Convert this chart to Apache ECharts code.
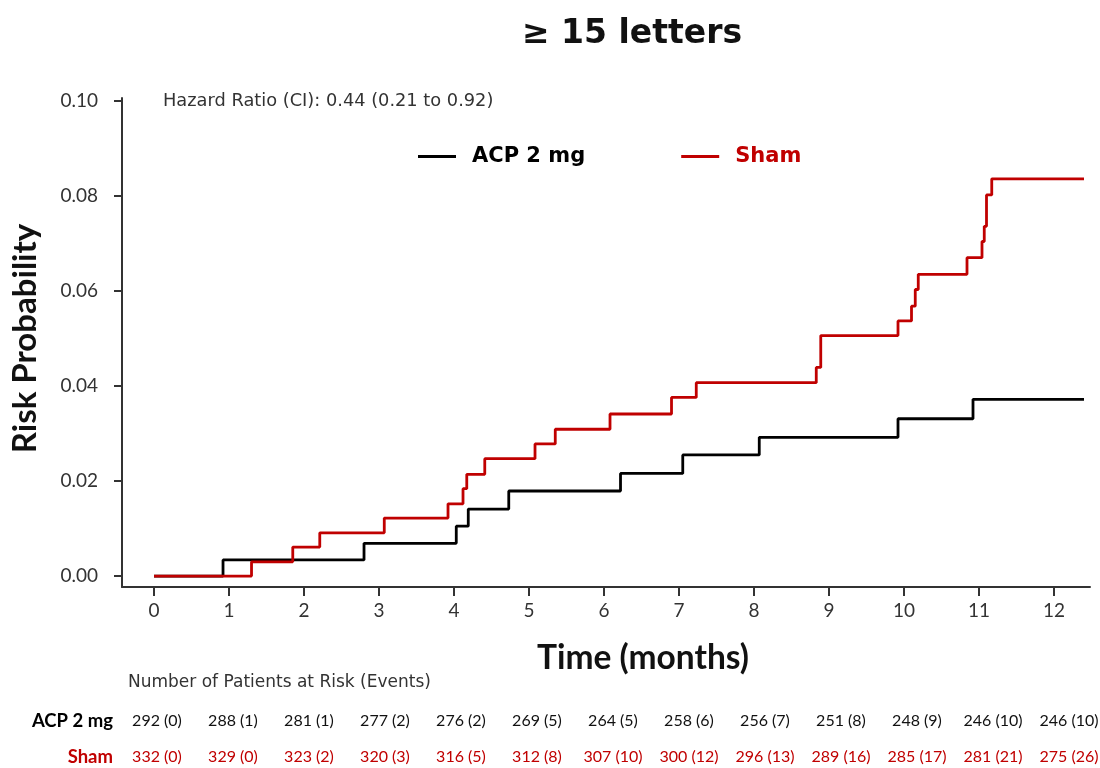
<!DOCTYPE html>
<html>
<head>
<meta charset="utf-8">
<script src="https://cdn.jsdelivr.net/npm/echarts@6/dist/echarts.min.js"></script>
<style>html,body{margin:0;padding:0;background:#fff}#chart{width:1100px;height:768px}</style>
</head>
<body>
<div id="chart"></div>
<script>
// ---- data ----
const acpTimes = [0, 0.92, 2.80, 4.03, 4.19, 4.73, 6.22, 7.05, 8.07, 9.92, 10.92, 12.40];
const acpRisk  = [0, 0.0034, 0.0069, 0.0105, 0.0141, 0.0179, 0.0216, 0.0255, 0.0292, 0.0331, 0.0372, 0.0372];
const shamTimes = [0, 1.30, 1.85, 2.21, 3.07, 3.92, 4.12, 4.17, 4.41, 5.08, 5.35, 6.08, 6.90, 7.23, 8.83, 8.89, 9.92, 10.10, 10.15, 10.19, 10.84, 11.04, 11.07, 11.10, 11.17, 12.40];
const shamRisk  = [0, 0.0030, 0.0061, 0.0091, 0.0122, 0.0152, 0.0184, 0.0214, 0.0247, 0.0278, 0.0309, 0.0341, 0.0376, 0.0407, 0.0439, 0.0506, 0.0537, 0.0568, 0.0603, 0.0635, 0.0670, 0.0704, 0.0736, 0.0802, 0.0836, 0.0836];
const xTicks = [0,1,2,3,4,5,6,7,8,9,10,11,12];
const yTicks = [0, 0.02, 0.04, 0.06, 0.08, 0.10];
const acpAtRisk = ['292 (0)','288 (1)','281 (1)','277 (2)','276 (2)','269 (5)','264 (5)','258 (6)','256 (7)','251 (8)','248 (9)','246 (10)','246 (10)'];
const shamAtRisk = ['332 (0)','329 (0)','323 (2)','320 (3)','316 (5)','312 (8)','307 (10)','300 (12)','296 (13)','289 (16)','285 (17)','281 (21)','275 (26)'];
const seriesNames = ['ACP 2 mg', 'Sham'];
const colors = ['#000000', '#C00000'];

const FONT = 'Lato';
const WIDE = '"DejaVu Sans"';
const chart = echarts.init(document.getElementById('chart'), null, {renderer: 'canvas'});

const tableGraphics = [];
tableGraphics.push({type:'text', x:128, y:683, style:{text:'Number of Patients at Risk (Events)', font:'17px ' + WIDE, fill:'#333', textVerticalAlign:'middle'}});
tableGraphics.push({type:'text', x:113, y:721, style:{text:seriesNames[0], font:'bold 18.5px ' + FONT, fill:colors[0], textAlign:'right', textVerticalAlign:'middle'}});
tableGraphics.push({type:'text', x:113, y:757, style:{text:seriesNames[1], font:'bold 18.5px ' + FONT, fill:colors[1], textAlign:'right', textVerticalAlign:'middle'}});
acpAtRisk.forEach((t, i) => {
  tableGraphics.push({type:'text', x:157 + 76 * i, y:721, style:{text:t, font:'16px ' + FONT, fill:'#111', textAlign:'center', textVerticalAlign:'middle'}});
});
shamAtRisk.forEach((t, i) => {
  tableGraphics.push({type:'text', x:157 + 76 * i, y:757, style:{text:t, font:'16px ' + FONT, fill:colors[1], textAlign:'center', textVerticalAlign:'middle'}});
});

const option = {
  backgroundColor: '#fff',
  animation: false,
  title: {
    text: '≥ 15 letters',
    left: 627, top: 13, textAlign: 'center',
    textStyle: {fontFamily: 'DejaVu Sans', fontWeight: 'bold', fontSize: 33, color: '#111'}
  },
  legend: {
    left: 413, top: 141,
    itemWidth: 38, itemHeight: 3, itemGap: 96,
    icon: 'rect',
    data: [
      {name: seriesNames[0], textStyle: {color: colors[0]}},
      {name: seriesNames[1], textStyle: {color: colors[1]}}
    ],
    textStyle: {fontFamily: 'DejaVu Sans', fontWeight: 'bold', fontSize: 21, padding: [0, 0, 0, 11]}
  },
  grid: {left: 122, right: 10, top: 98, bottom: 181},
  xAxis: {
    type: 'value', min: -0.427, max: 12.48,
    axisLine: {show: true, onZero: false, lineStyle: {color: '#333', width: 2}},
    axisTick: {show: true, length: 9, customValues: xTicks, lineStyle: {color: '#333', width: 2}},
    axisLabel: {customValues: xTicks, color: '#333', fontFamily: FONT, fontSize: 19, margin: 14},
    splitLine: {show: false}
  },
  yAxis: {
    type: 'value', min: -0.0023, max: 0.1006,
    name: 'Risk Probability', nameLocation: 'middle', nameRotate: 90, nameGap: 80,
    nameTextStyle: {fontFamily: FONT, fontWeight: 'bold', fontSize: 33, color: '#111', padding: [0, 0, 0, 8]},
    axisLine: {show: true, onZero: false, lineStyle: {color: '#333', width: 2}},
    axisTick: {show: true, length: 8, customValues: yTicks, lineStyle: {color: '#333', width: 2}},
    axisLabel: {customValues: yTicks, color: '#333', fontFamily: FONT, fontSize: 19, margin: 24,
      formatter: v => v.toFixed(2)},
    splitLine: {show: false}
  },
  graphic: [
    {type:'text', x:163, y:101, style:{text:'Hazard Ratio (CI): 0.44 (0.21 to 0.92)', font:'17.8px ' + WIDE, fill:'#333', textVerticalAlign:'middle'}},
    {type:'text', x:643, y:658, style:{text:'Time (months)', font:'bold 33.5px ' + FONT, fill:'#111', textAlign:'center', textVerticalAlign:'middle'}},
    ...tableGraphics
  ],
  series: [
    {name: seriesNames[0], type: 'line', step: 'end', showSymbol: false, symbol: 'none',
     lineStyle: {color: colors[0], width: 2.8}, itemStyle: {color: colors[0]},
     data: acpTimes.map((t, i) => [t, acpRisk[i]])},
    {name: seriesNames[1], type: 'line', step: 'end', showSymbol: false, symbol: 'none',
     lineStyle: {color: colors[1], width: 2.8}, itemStyle: {color: colors[1]},
     data: shamTimes.map((t, i) => [t, shamRisk[i]])}
  ]
};
chart.setOption(option);
</script>
</body>
</html>
